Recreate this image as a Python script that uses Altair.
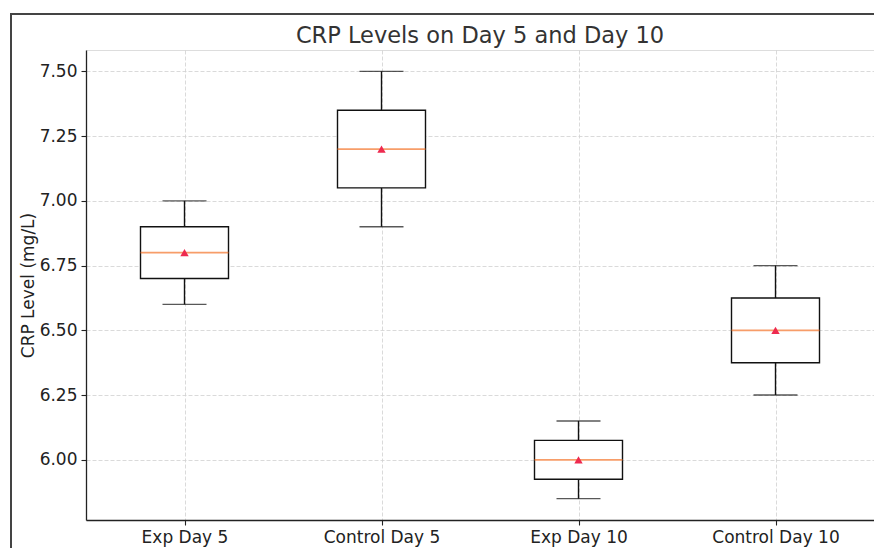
import altair as alt
import pandas as pd

groups = ["Exp Day 5", "Control Day 5", "Exp Day 10", "Control Day 10"]
whisker_low = [6.60, 6.90, 5.85, 6.25]
q1 = [6.70, 7.05, 5.925, 6.375]
median = [6.80, 7.20, 6.00, 6.50]
q3 = [6.90, 7.35, 6.075, 6.625]
whisker_high = [7.00, 7.50, 6.15, 6.75]
mean = [6.80, 7.20, 6.00, 6.50]
y_ticks = [6.00, 6.25, 6.50, 6.75, 7.00, 7.25, 7.50]

df = pd.DataFrame({
    "group": groups, "lo": whisker_low, "q1": q1, "med": median,
    "q3": q3, "hi": whisker_high, "mean": mean,
})

FONT = "DejaVu Sans"
x = alt.X("group:N", sort=groups, title=None,
          scale=alt.Scale(type="point", padding=0.5),
          axis=alt.Axis(labelAngle=0, labelFontSize=17, labelFont=FONT, labelColor="#222222",
                        domainColor="#222222", domainWidth=1.3, tickColor="#222222",
                        tickSize=5, tickWidth=1.1, labelPadding=4,
                        grid=True, gridColor="#d0d0d0", gridDash=[4, 2], gridWidth=0.8))
yscale = alt.Scale(domain=[5.7675, 7.5825], nice=False, zero=False)
yaxis = alt.Axis(values=y_ticks, format=".2f", labelFontSize=17, labelFont=FONT,
                 labelColor="#222222", domainColor="#222222", domainWidth=1.3,
                 tickColor="#222222", tickSize=5, tickWidth=1.1, labelPadding=4,
                 title="CRP Level (mg/L)", titleFontSize=17, titleFont=FONT,
                 titleFontWeight="normal", titleColor="#222222", titlePadding=2,
                 grid=True, gridColor="#d0d0d0", gridDash=[4, 2], gridWidth=0.8)

base = alt.Chart(df)

whisk_lo = base.mark_rule(color="#111111", strokeWidth=1.4).encode(
    x=x, y=alt.Y("lo:Q", scale=yscale, axis=yaxis), y2="q1:Q")
whisk_hi = base.mark_rule(color="#111111", strokeWidth=1.4).encode(
    x=x, y=alt.Y("q3:Q", scale=yscale), y2="hi:Q")
cap_lo = base.mark_tick(color="#111111", size=44, thickness=1.4).encode(
    x=x, y=alt.Y("lo:Q", scale=yscale))
cap_hi = base.mark_tick(color="#111111", size=44, thickness=1.4).encode(
    x=x, y=alt.Y("hi:Q", scale=yscale))
box = base.mark_bar(size=88, fill="white", stroke="#111111", strokeWidth=1.4).encode(
    x=x, y=alt.Y("q1:Q", scale=yscale), y2="q3:Q")
med = base.mark_tick(color="#f4742a", size=88, thickness=1.7).encode(
    x=x, y=alt.Y("med:Q", scale=yscale))
mn = base.mark_point(shape="triangle-up", filled=True, size=70, color="#ee2a4f", opacity=1).encode(
    x=x, y=alt.Y("mean:Q", scale=yscale))

frame_src = pd.DataFrame({"k": [0]})
frame_left = alt.Chart(frame_src).mark_rule(color="#444444", strokeWidth=2).encode(
    x=alt.value(-75), y=alt.value(-36), y2=alt.value(520))
frame_top = alt.Chart(frame_src).mark_rule(color="#444444", strokeWidth=2).encode(
    x=alt.value(-76), x2=alt.value(800), y=alt.value(-36))

chart = alt.layer(frame_left, frame_top, whisk_lo, whisk_hi, cap_lo, cap_hi, box, med, mn).properties(
    width=788, height=470,
    title=alt.TitleParams("CRP Levels on Day 5 and Day 10", fontSize=22.5, font=FONT,
                          fontWeight="normal", color="#333333", anchor="middle", offset=-34),
    padding={"left": 86, "top": 50, "right": 0, "bottom": 28},
    autosize=alt.AutoSizeParams(type="none"),
).configure_view(stroke=None).configure(background="white")

chart.save("out.html", embed_options={"renderer": "svg", "actions": False})
